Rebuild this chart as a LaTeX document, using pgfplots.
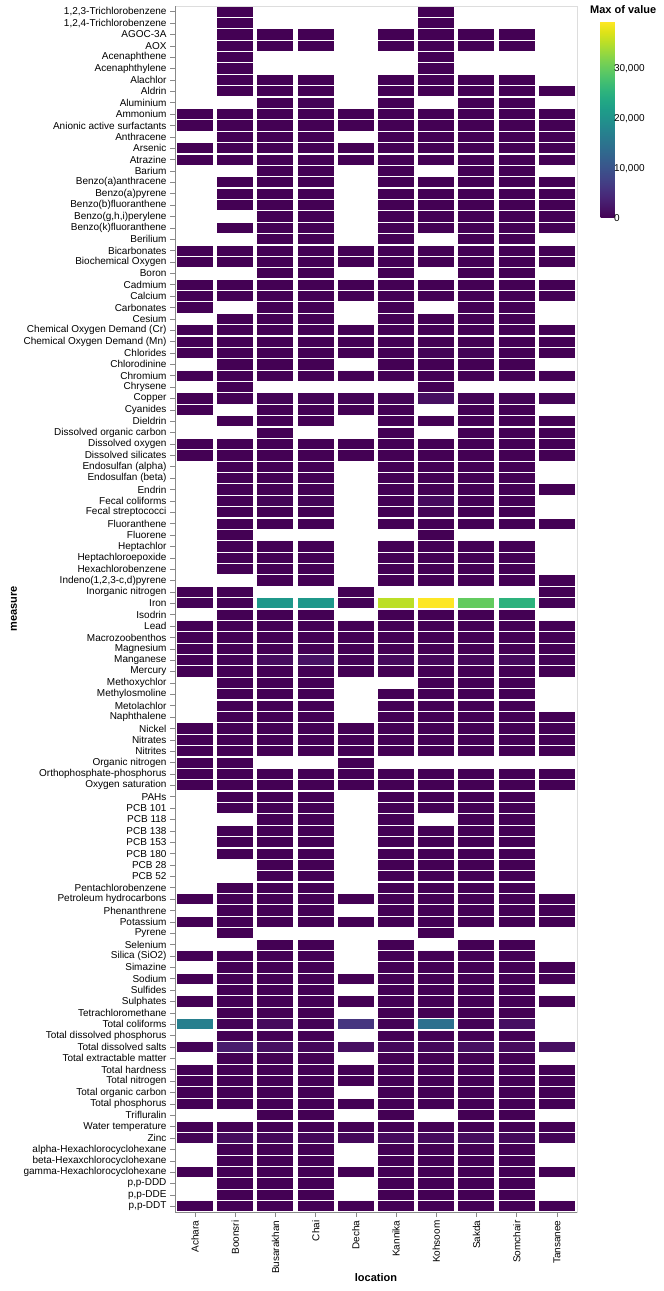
\documentclass[border=0pt]{standalone}
\usepackage{pgfplots}
\pgfplotsset{compat=1.18}
\usepackage{fontspec}
\setmainfont{Liberation Sans}
\pgfplotsset{colormap={vir}{rgb255=(68,1,84) rgb255=(71,19,101) rgb255=(72,36,117) rgb255=(70,52,128) rgb255=(65,68,135) rgb255=(59,82,139) rgb255=(53,95,141) rgb255=(47,108,142) rgb255=(42,120,142) rgb255=(37,132,142) rgb255=(33,145,140) rgb255=(30,156,137) rgb255=(34,168,132) rgb255=(47,180,124) rgb255=(68,191,112) rgb255=(94,201,98) rgb255=(122,209,81) rgb255=(155,217,60) rgb255=(189,223,38) rgb255=(223,227,24) rgb255=(253,231,37)}}
\pgfdeclareplotmark{cell}{\pgfpathrectangle{\pgfpoint{-18pt}{-5.1pt}}{\pgfpoint{36pt}{10.2pt}}\pgfusepathqfill}
\definecolor{axgray}{HTML}{888888}
\definecolor{frgray}{HTML}{DDDDDD}
\begin{document}
\begin{tikzpicture}
\path[use as bounding box] (0,0) rectangle (664pt,1291pt);
\begin{axis}[
  at={(175pt,79pt)}, anchor=south west, scale only axis,
  width=402pt, height=1206pt,
  xmin=-0.5, xmax=9.5, ymin=-0.5, ymax=105.5, y dir=reverse,
  colormap name=vir, point meta min=0, point meta max=39500,
  axis line style={frgray},
  tick align=outside, major tick length=5pt,
  tick style={axgray, line width=0.6pt},
  xtick pos=left, ytick pos=left,
  xtick={0,...,9}, ytick={0,...,105},
  xticklabels={Achara,Boonsri,Busarakhan,Chai,Decha,Kannika,Kohsoom,Sakda,Somchair,Tansanee},
  xticklabel style={rotate=90, anchor=east, font=\fontsize{10}{12}\selectfont},
  yticklabel style={font=\fontsize{10}{12}\selectfont},
  yticklabels={{1,2,3-Trichlorobenzene},{1,2,4-Trichlorobenzene},{AGOC-3A},{AOX},{Acenaphthene},{Acenaphthylene},{Alachlor},{Aldrin},{Aluminium},{Ammonium},{Anionic active surfactants},{Anthracene},{Arsenic},{Atrazine},{Barium},{Benzo(a)anthracene},{Benzo(a)pyrene},{Benzo(b)fluoranthene},{Benzo(g,h,i)perylene},{Benzo(k)fluoranthene},{Berilium},{Bicarbonates},{Biochemical Oxygen},{Boron},{Cadmium},{Calcium},{Carbonates},{Cesium},{Chemical Oxygen Demand (Cr)},{Chemical Oxygen Demand (Mn)},{Chlorides},{Chlorodinine},{Chromium},{Chrysene},{Copper},{Cyanides},{Dieldrin},{Dissolved organic carbon},{Dissolved oxygen},{Dissolved silicates},{Endosulfan (alpha)},{Endosulfan (beta)},{Endrin},{Fecal coliforms},{Fecal streptococci},{Fluoranthene},{Fluorene},{Heptachlor},{Heptachloroepoxide},{Hexachlorobenzene},{Indeno(1,2,3-c,d)pyrene},{Inorganic nitrogen},{Iron},{Isodrin},{Lead},{Macrozoobenthos},{Magnesium},{Manganese},{Mercury},{Methoxychlor},{Methylosmoline},{Metolachlor},{Naphthalene},{Nickel},{Nitrates},{Nitrites},{Organic nitrogen},{Orthophosphate-phosphorus},{Oxygen saturation},{PAHs},{PCB 101},{PCB 118},{PCB 138},{PCB 153},{PCB 180},{PCB 28},{PCB 52},{Pentachlorobenzene},{Petroleum hydrocarbons},{Phenanthrene},{Potassium},{Pyrene},{Selenium},{Silica (SiO2)},{Simazine},{Sodium},{Sulfides},{Sulphates},{Tetrachloromethane},{Total coliforms},{Total dissolved phosphorus},{Total dissolved salts},{Total extractable matter},{Total hardness},{Total nitrogen},{Total organic carbon},{Total phosphorus},{Trifluralin},{Water temperature},{Zinc},{alpha-Hexachlorocyclohexane},{beta-Hexaxchlorocyclohexane},{gamma-Hexachlorocyclohexane},{p,p-DDD},{p,p-DDE},{p,p-DDT}},
  colorbar,
  colorbar style={
    at={(parent axis.north east)}, anchor=north west, xshift=15pt, yshift=-16pt,
    scale only axis, width=14pt, height=196pt,
    axis line style={draw=none}, major tick length=0pt, tick style={draw=none},
    ytick={0,10000,20000,30000},
    yticklabel style={xshift=-4pt, font=\fontsize{10}{12}\selectfont, /pgf/number format/.cd, 1000 sep={,}, fixed, assume math mode=true},
    scaled y ticks=false,
  },
]
\addplot[scatter, only marks, mark=cell, point meta=explicit,
  scatter/use mapped color={draw=mapped color, fill=mapped color}] coordinates {
(1,0)[0] (6,0)[0]
(1,1)[0] (6,1)[0]
(1,2)[0] (2,2)[0] (3,2)[0] (5,2)[0] (6,2)[0] (7,2)[0] (8,2)[0]
(1,3)[0] (2,3)[0] (3,3)[0] (5,3)[0] (6,3)[0] (7,3)[0] (8,3)[0]
(1,4)[0] (6,4)[0]
(1,5)[0] (6,5)[0]
(1,6)[0] (2,6)[0] (3,6)[0] (5,6)[0] (6,6)[0] (7,6)[0] (8,6)[0]
(1,7)[0] (2,7)[0] (3,7)[0] (5,7)[0] (6,7)[0] (7,7)[0] (8,7)[0] (9,7)[0]
(2,8)[0] (3,8)[200] (5,8)[0] (7,8)[0] (8,8)[0]
(0,9)[0] (1,9)[0] (2,9)[0] (3,9)[0] (4,9)[0] (5,9)[0] (6,9)[0] (7,9)[0] (8,9)[0] (9,9)[0]
(0,10)[0] (1,10)[0] (2,10)[0] (3,10)[0] (4,10)[0] (5,10)[0] (6,10)[0] (7,10)[0] (8,10)[0] (9,10)[0]
(1,11)[0] (2,11)[0] (3,11)[0] (5,11)[0] (6,11)[0] (7,11)[0] (8,11)[0] (9,11)[0]
(0,12)[0] (1,12)[0] (2,12)[0] (3,12)[0] (4,12)[0] (5,12)[0] (6,12)[0] (7,12)[0] (8,12)[0] (9,12)[0]
(0,13)[0] (1,13)[0] (2,13)[0] (3,13)[0] (4,13)[0] (5,13)[0] (6,13)[0] (7,13)[0] (8,13)[0] (9,13)[0]
(2,14)[0] (3,14)[0] (5,14)[0] (7,14)[0] (8,14)[0]
(1,15)[0] (2,15)[0] (3,15)[0] (5,15)[0] (6,15)[0] (7,15)[0] (8,15)[0] (9,15)[0]
(1,16)[0] (2,16)[0] (3,16)[0] (5,16)[0] (6,16)[0] (7,16)[0] (8,16)[0] (9,16)[0]
(1,17)[0] (2,17)[0] (3,17)[0] (5,17)[0] (6,17)[0] (7,17)[0] (8,17)[0] (9,17)[0]
(2,18)[0] (3,18)[0] (5,18)[0] (6,18)[0] (7,18)[0] (8,18)[0] (9,18)[0]
(1,19)[0] (2,19)[0] (3,19)[0] (5,19)[0] (6,19)[0] (7,19)[0] (8,19)[0] (9,19)[0]
(2,20)[0] (3,20)[0] (5,20)[0] (7,20)[0] (8,20)[0]
(0,21)[0] (1,21)[0] (2,21)[0] (3,21)[0] (4,21)[0] (5,21)[0] (6,21)[0] (7,21)[0] (8,21)[0] (9,21)[0]
(0,22)[0] (1,22)[0] (2,22)[0] (3,22)[0] (4,22)[0] (5,22)[0] (6,22)[0] (7,22)[0] (8,22)[0] (9,22)[0]
(2,23)[0] (3,23)[0] (5,23)[0] (7,23)[0] (8,23)[0]
(0,24)[0] (1,24)[0] (2,24)[0] (3,24)[0] (4,24)[0] (5,24)[0] (6,24)[0] (7,24)[0] (8,24)[0] (9,24)[0]
(0,25)[0] (1,25)[0] (2,25)[0] (3,25)[0] (4,25)[0] (5,25)[0] (6,25)[0] (7,25)[0] (8,25)[0] (9,25)[0]
(0,26)[0] (2,26)[0] (3,26)[0] (5,26)[0] (7,26)[0] (8,26)[0]
(1,27)[0] (2,27)[0] (3,27)[0] (5,27)[0] (6,27)[0] (7,27)[0] (8,27)[0]
(0,28)[0] (1,28)[0] (2,28)[0] (3,28)[0] (4,28)[0] (5,28)[0] (6,28)[0] (7,28)[0] (8,28)[0] (9,28)[0]
(0,29)[0] (1,29)[0] (2,29)[0] (3,29)[0] (4,29)[0] (5,29)[0] (6,29)[0] (7,29)[0] (8,29)[0] (9,29)[0]
(0,30)[0] (1,30)[0] (2,30)[0] (3,30)[0] (4,30)[0] (5,30)[0] (6,30)[300] (7,30)[300] (8,30)[0] (9,30)[0]
(1,31)[0] (2,31)[0] (3,31)[0] (5,31)[0] (6,31)[0] (7,31)[0] (8,31)[0]
(0,32)[0] (1,32)[0] (2,32)[0] (3,32)[0] (4,32)[0] (5,32)[0] (6,32)[0] (7,32)[0] (8,32)[0] (9,32)[0]
(1,33)[0] (6,33)[0]
(0,34)[0] (1,34)[0] (2,34)[300] (3,34)[300] (4,34)[300] (5,34)[300] (6,34)[1500] (7,34)[300] (8,34)[300] (9,34)[300]
(0,35)[0] (2,35)[0] (3,35)[0] (4,35)[0] (5,35)[0] (7,35)[0] (8,35)[0]
(1,36)[0] (2,36)[0] (3,36)[0] (5,36)[0] (6,36)[0] (7,36)[0] (8,36)[0] (9,36)[0]
(2,37)[0] (5,37)[0] (7,37)[0] (8,37)[0] (9,37)[0]
(0,38)[0] (1,38)[0] (2,38)[0] (3,38)[0] (4,38)[0] (5,38)[0] (6,38)[0] (7,38)[0] (8,38)[0] (9,38)[0]
(0,39)[0] (1,39)[0] (2,39)[0] (3,39)[0] (4,39)[0] (5,39)[0] (6,39)[0] (7,39)[0] (8,39)[0] (9,39)[0]
(1,40)[0] (2,40)[0] (3,40)[0] (5,40)[0] (6,40)[0] (7,40)[0] (8,40)[0]
(1,41)[0] (2,41)[0] (3,41)[0] (5,41)[0] (6,41)[0] (7,41)[0] (8,41)[0]
(1,42)[0] (2,42)[0] (3,42)[0] (5,42)[0] (6,42)[0] (7,42)[0] (8,42)[0] (9,42)[0]
(1,43)[0] (2,43)[300] (3,43)[300] (5,43)[0] (6,43)[1000] (7,43)[0] (8,43)[0]
(1,44)[0] (2,44)[0] (3,44)[0] (5,44)[0] (6,44)[400] (7,44)[0] (8,44)[0]
(1,45)[0] (2,45)[0] (3,45)[0] (5,45)[0] (6,45)[0] (7,45)[0] (8,45)[0] (9,45)[0]
(1,46)[0] (6,46)[0]
(1,47)[0] (2,47)[0] (3,47)[0] (5,47)[0] (6,47)[0] (7,47)[0] (8,47)[0]
(1,48)[0] (2,48)[0] (3,48)[0] (5,48)[0] (6,48)[0] (7,48)[0] (8,48)[0]
(1,49)[0] (2,49)[0] (3,49)[0] (5,49)[0] (6,49)[0] (7,49)[0] (8,49)[0]
(2,50)[0] (3,50)[0] (5,50)[0] (6,50)[0] (7,50)[0] (8,50)[0] (9,50)[0]
(0,51)[0] (1,51)[0] (4,51)[0] (9,51)[0]
(0,52)[200] (1,52)[200] (2,52)[21000] (3,52)[21000] (4,52)[200] (5,52)[35500] (6,52)[39500] (7,52)[30000] (8,52)[25300] (9,52)[200]
(1,53)[0] (2,53)[0] (3,53)[0] (5,53)[0] (6,53)[0] (7,53)[0] (8,53)[0]
(0,54)[0] (1,54)[0] (2,54)[0] (3,54)[0] (4,54)[0] (5,54)[0] (6,54)[0] (7,54)[0] (8,54)[0] (9,54)[0]
(0,55)[0] (1,55)[0] (2,55)[0] (3,55)[0] (4,55)[0] (5,55)[0] (6,55)[0] (7,55)[0] (8,55)[0] (9,55)[0]
(0,56)[0] (1,56)[0] (2,56)[0] (3,56)[0] (4,56)[0] (5,56)[0] (6,56)[0] (7,56)[0] (8,56)[0] (9,56)[0]
(0,57)[0] (1,57)[200] (2,57)[1200] (3,57)[1800] (4,57)[200] (5,57)[900] (6,57)[700] (7,57)[700] (8,57)[900] (9,57)[200]
(0,58)[0] (1,58)[0] (2,58)[0] (3,58)[0] (4,58)[0] (5,58)[0] (6,58)[0] (7,58)[0] (8,58)[0] (9,58)[0]
(1,59)[0] (2,59)[0] (3,59)[0] (6,59)[0] (7,59)[0] (8,59)[0]
(1,60)[0] (2,60)[0] (3,60)[0] (5,60)[0] (6,60)[0] (7,60)[0] (8,60)[0]
(1,61)[0] (2,61)[0] (3,61)[0] (5,61)[0] (6,61)[0] (7,61)[0] (8,61)[0]
(1,62)[0] (2,62)[0] (3,62)[0] (5,62)[0] (6,62)[0] (7,62)[0] (8,62)[0] (9,62)[0]
(0,63)[0] (1,63)[0] (2,63)[0] (3,63)[0] (4,63)[0] (5,63)[0] (6,63)[0] (7,63)[0] (8,63)[0] (9,63)[0]
(0,64)[0] (1,64)[0] (2,64)[0] (3,64)[0] (4,64)[0] (5,64)[0] (6,64)[0] (7,64)[0] (8,64)[0] (9,64)[0]
(0,65)[0] (1,65)[0] (2,65)[0] (3,65)[0] (4,65)[0] (5,65)[0] (6,65)[0] (7,65)[0] (8,65)[0] (9,65)[0]
(0,66)[0] (1,66)[0] (4,66)[0]
(0,67)[0] (1,67)[0] (2,67)[0] (3,67)[0] (4,67)[0] (5,67)[0] (6,67)[0] (7,67)[0] (8,67)[0] (9,67)[0]
(0,68)[0] (1,68)[0] (2,68)[0] (3,68)[0] (4,68)[0] (5,68)[0] (6,68)[0] (7,68)[0] (8,68)[0] (9,68)[0]
(1,69)[0] (2,69)[0] (3,69)[0] (5,69)[0] (6,69)[0] (7,69)[0] (8,69)[0]
(1,70)[0] (2,70)[0] (3,70)[0] (5,70)[0] (6,70)[0] (7,70)[0] (8,70)[0]
(2,71)[0] (3,71)[0] (5,71)[0] (7,71)[0] (8,71)[0]
(1,72)[0] (2,72)[0] (3,72)[0] (5,72)[0] (6,72)[0] (7,72)[0] (8,72)[0]
(1,73)[0] (2,73)[0] (3,73)[0] (5,73)[0] (6,73)[0] (7,73)[0] (8,73)[0]
(1,74)[0] (2,74)[0] (3,74)[0] (5,74)[0] (6,74)[0] (7,74)[0] (8,74)[0]
(2,75)[0] (3,75)[0] (5,75)[0] (6,75)[0] (7,75)[0] (8,75)[0]
(2,76)[0] (3,76)[0] (5,76)[0] (6,76)[0] (7,76)[0] (8,76)[0]
(1,77)[0] (2,77)[0] (3,77)[0] (5,77)[0] (6,77)[0] (7,77)[0] (8,77)[0]
(0,78)[0] (1,78)[0] (2,78)[0] (3,78)[0] (4,78)[0] (5,78)[0] (6,78)[0] (7,78)[0] (8,78)[0] (9,78)[0]
(1,79)[0] (2,79)[0] (3,79)[0] (5,79)[0] (6,79)[0] (7,79)[0] (8,79)[0] (9,79)[0]
(0,80)[0] (1,80)[0] (2,80)[0] (3,80)[0] (4,80)[0] (5,80)[0] (6,80)[0] (7,80)[0] (8,80)[0] (9,80)[0]
(1,81)[0] (6,81)[0]
(2,82)[0] (3,82)[0] (5,82)[0] (7,82)[0] (8,82)[0]
(0,83)[0] (1,83)[0] (2,83)[0] (3,83)[0] (5,83)[0] (6,83)[0] (7,83)[0] (8,83)[0]
(1,84)[0] (2,84)[0] (3,84)[0] (5,84)[0] (6,84)[0] (7,84)[0] (8,84)[0] (9,84)[0]
(0,85)[0] (1,85)[0] (2,85)[0] (3,85)[0] (4,85)[0] (5,85)[0] (6,85)[0] (7,85)[0] (8,85)[0] (9,85)[0]
(1,86)[0] (2,86)[0] (3,86)[0] (5,86)[0] (6,86)[0] (7,86)[0] (8,86)[0]
(0,87)[0] (1,87)[0] (2,87)[0] (3,87)[0] (4,87)[0] (5,87)[0] (6,87)[0] (7,87)[0] (8,87)[0] (9,87)[0]
(1,88)[0] (2,88)[0] (3,88)[0] (5,88)[0] (6,88)[0] (7,88)[0] (8,88)[0]
(0,89)[17000] (1,89)[200] (2,89)[1000] (3,89)[200] (4,89)[6000] (5,89)[200] (6,89)[14500] (7,89)[200] (8,89)[1500]
(1,90)[0] (2,90)[0] (3,90)[0] (5,90)[0] (6,90)[0] (7,90)[0] (8,90)[0]
(0,91)[300] (1,91)[3000] (2,91)[1500] (3,91)[700] (4,91)[1500] (5,91)[800] (6,91)[800] (7,91)[1500] (8,91)[1000] (9,91)[1500]
(1,92)[0] (2,92)[0] (3,92)[0] (5,92)[0] (6,92)[0] (7,92)[0] (8,92)[0]
(0,93)[0] (1,93)[0] (2,93)[0] (3,93)[0] (4,93)[0] (5,93)[0] (6,93)[0] (7,93)[0] (8,93)[0] (9,93)[0]
(0,94)[0] (1,94)[0] (2,94)[0] (3,94)[0] (4,94)[0] (5,94)[0] (6,94)[0] (7,94)[0] (8,94)[0] (9,94)[0]
(0,95)[0] (1,95)[0] (2,95)[0] (3,95)[0] (5,95)[0] (6,95)[0] (7,95)[0] (8,95)[0] (9,95)[0]
(0,96)[0] (1,96)[0] (2,96)[0] (3,96)[0] (4,96)[0] (5,96)[0] (6,96)[0] (7,96)[0] (8,96)[0] (9,96)[0]
(2,97)[0] (3,97)[0] (5,97)[0] (7,97)[0] (8,97)[0]
(0,98)[0] (1,98)[0] (2,98)[0] (3,98)[0] (4,98)[0] (5,98)[0] (6,98)[0] (7,98)[0] (8,98)[0] (9,98)[0]
(0,99)[200] (1,99)[1200] (2,99)[700] (3,99)[700] (4,99)[700] (5,99)[1000] (6,99)[1000] (7,99)[1200] (8,99)[800] (9,99)[300]
(1,100)[0] (2,100)[0] (3,100)[0] (5,100)[0] (6,100)[0] (7,100)[0] (8,100)[0]
(1,101)[0] (2,101)[0] (3,101)[0] (5,101)[0] (6,101)[0] (7,101)[0] (8,101)[0]
(0,102)[0] (1,102)[0] (2,102)[0] (3,102)[0] (4,102)[0] (5,102)[0] (6,102)[0] (7,102)[0] (8,102)[0] (9,102)[0]
(1,103)[0] (2,103)[0] (3,103)[0] (5,103)[0] (6,103)[0] (7,103)[0] (8,103)[0]
(1,104)[0] (2,104)[0] (3,104)[0] (5,104)[0] (6,104)[0] (7,104)[0] (8,104)[0]
(0,105)[0] (1,105)[0] (2,105)[0] (3,105)[0] (4,105)[0] (5,105)[0] (6,105)[0] (7,105)[0] (8,105)[0] (9,105)[0]
};
\draw[axgray, line width=0.6pt] (rel axis cs:0,1) -- (rel axis cs:0,0) -- (rel axis cs:1,0);
\end{axis}
\node[font=\bfseries\fontsize{11}{13}\selectfont] at (376pt,13pt) {location};
\node[font=\bfseries\fontsize{11}{13}\selectfont, rotate=90] at (14pt,682pt) {measure};
\node[font=\bfseries\fontsize{11}{13}\selectfont, anchor=west, inner sep=0pt] at (590pt,1281pt) {Max of value};
\end{tikzpicture}
\end{document}
